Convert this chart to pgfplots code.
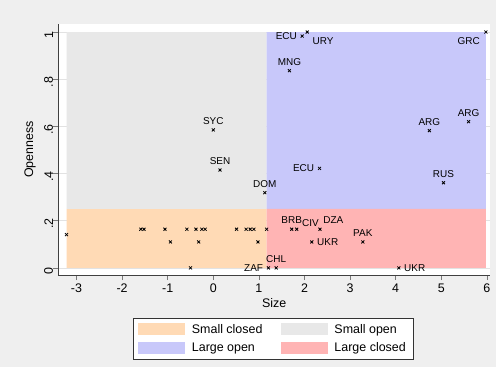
\documentclass[border=0pt]{standalone}
\usepackage{pgfplots}
\pgfplotsset{compat=1.18}
\usepackage{fontspec}
\setmainfont{Liberation Sans}
\definecolor{outerbg}{HTML}{EFEFEF}
\definecolor{scfill}{HTML}{FFDAB5}
\definecolor{sofill}{HTML}{E8E8E8}
\definecolor{lofill}{HTML}{C8C8FA}
\definecolor{lcfill}{HTML}{FFB4B4}
\definecolor{gridc}{HTML}{E2E2E2}
\definecolor{axisc}{HTML}{404040}
\newcommand{\axfont}{\fontsize{12.5}{14}\selectfont}
\newcommand{\lbfont}{\fontsize{10}{12}\selectfont}
\begin{document}
\begin{tikzpicture}
\fill[outerbg] (0,0) rectangle (496bp,367bp);
\begin{axis}[
  at={(58.3bp,92bp)}, anchor=south west,
  scale only axis, width=431.7bp, height=251bp,
  xmin=-3.40, xmax=6.07, ymin=-0.030, ymax=1.034,
  axis x line*=bottom, axis y line*=left,
  axis line style={axisc, line width=0.8pt},
  axis background/.style={fill=white},
  xtick={-3,-2,-1,0,1,2,3,4,5,6},
  ytick={0,0.2,0.4,0.6,0.8,1},
  yticklabels={0,.2,.4,.6,.8,1},
  tick align=outside, major tick length=5bp,
  tick style={axisc!70, line width=0.6pt},
  ymajorgrids, grid style={gridc, line width=0.6pt},
  /pgf/number format/assume math mode=true,
  tick label style={font=\axfont},
  yticklabel style={rotate=90, anchor=south, inner sep=0pt, xshift=-3bp},
  xticklabel style={inner sep=0pt, yshift=-4bp},
  label style={font=\axfont},
  xlabel={Size}, ylabel={Openness},
  xlabel style={at={(axis description cs:0.5,-0.1116)}, anchor=center},
  ylabel style={at={(axis description cs:-0.0656,0.5)}, anchor=center},
  legend columns=2,
  legend cell align=left,
  legend image code/.code={\fill[#1] (0bp,-6bp) rectangle (47bp,6bp);},
  legend style={at={(axis description cs:0.497,-0.171)}, anchor=north,
    draw=black!80, fill=white, font=\axfont, inner xsep=5bp, inner ysep=4bp,
    row sep=4bp,
    /tikz/every odd column/.append style={column sep=5bp},
    /tikz/every even column/.append style={column sep=16bp}},
]
% regions
\addplot[draw=none, fill=scfill] coordinates {(-3.22,0) (1.17,0) (1.17,0.25) (-3.22,0.25) (-3.22,0)};
\addlegendentry{Small closed}
\addplot[draw=none, fill=sofill] coordinates {(-3.22,0.25) (1.17,0.25) (1.17,1) (-3.22,1) (-3.22,0.25)};
\addlegendentry{Small open}
\addplot[draw=none, fill=lofill] coordinates {(1.17,0.25) (5.98,0.25) (5.98,1) (1.17,1) (1.17,0.25)};
\addlegendentry{Large open}
\addplot[draw=none, fill=lcfill] coordinates {(1.17,0) (5.98,0) (5.98,0.25) (1.17,0.25) (1.17,0)};
\addlegendentry{Large closed}
% unlabelled points
\addplot[only marks, mark=x, mark size=2.1bp, line width=0.8pt, black, forget plot] coordinates {
(-3.22,0.141) (-1.59,0.164) (-1.52,0.164) (-1.06,0.164) (-0.94,0.110)
(-0.58,0.164) (-0.50,0) (-0.38,0.164) (-0.32,0.110) (-0.25,0.164)
(-0.18,0.164) (0.51,0.164) (0.72,0.164) (0.81,0.164) (0.89,0.164)
(0.98,0.110) (1.17,0.164)};
% labelled: above
\addplot[only marks, mark=x, mark size=2.1bp, line width=0.8pt, black, forget plot,
  nodes near coords, point meta=explicit symbolic,
  every node near coord/.append style={anchor=south, inner sep=0pt, yshift=5bp, font=\lbfont, text=black}]
  table[meta=lab] {
x y lab
1.67 0.836 MNG
0.00 0.585 SYC
0.147 0.415 SEN
1.13 0.319 DOM
5.60 0.620 ARG
4.74 0.582 ARG
5.05 0.361 RUS
3.28 0.110 PAK
1.72 0.164 BRB
1.38 0 CHL
};
% labelled: left
\addplot[only marks, mark=x, mark size=2.1bp, line width=0.8pt, black, forget plot,
  nodes near coords, point meta=explicit symbolic,
  every node near coord/.append style={anchor=east, inner sep=0pt, xshift=-5bp, font=\lbfont, text=black}]
  table[meta=lab] {
x y lab
1.95 0.983 ECU
2.33 0.422 ECU
1.21 0 ZAF
};
% labelled: right
\addplot[only marks, mark=x, mark size=2.1bp, line width=0.8pt, black, forget plot,
  nodes near coords, point meta=explicit symbolic,
  every node near coord/.append style={anchor=west, inner sep=0pt, xshift=5bp, font=\lbfont, text=black}]
  table[meta=lab] {
x y lab
2.16 0.110 UKR
4.07 0 UKR
};
% CIV right-up
\addplot[only marks, mark=x, mark size=2.1bp, line width=0.8pt, black, forget plot,
  nodes near coords, point meta=explicit symbolic,
  every node near coord/.append style={anchor=west, inner sep=0pt, xshift=5bp, yshift=6bp, font=\lbfont, text=black}]
  table[meta=lab] {
x y lab
1.83 0.164 CIV
};
% DZA above-right
\addplot[only marks, mark=x, mark size=2.1bp, line width=0.8pt, black, forget plot,
  nodes near coords, point meta=explicit symbolic,
  every node near coord/.append style={anchor=south west, inner sep=0pt, xshift=3bp, yshift=5bp, font=\lbfont, text=black}]
  table[meta=lab] {
x y lab
2.34 0.164 DZA
};
% URY below-right
\addplot[only marks, mark=x, mark size=2.1bp, line width=0.8pt, black, forget plot,
  nodes near coords, point meta=explicit symbolic,
  every node near coord/.append style={anchor=north west, inner sep=0pt, xshift=5bp, yshift=-5.5bp, font=\lbfont, text=black}]
  table[meta=lab] {
x y lab
2.06 1.0 URY
};
% GRC below-left
\addplot[only marks, mark=x, mark size=2.1bp, line width=0.8pt, black, forget plot,
  nodes near coords, point meta=explicit symbolic,
  every node near coord/.append style={anchor=north east, inner sep=0pt, xshift=-5.7bp, yshift=-5.5bp, font=\lbfont, text=black}]
  table[meta=lab] {
x y lab
5.98 1.0 GRC
};
\end{axis}
\end{tikzpicture}
\end{document}
